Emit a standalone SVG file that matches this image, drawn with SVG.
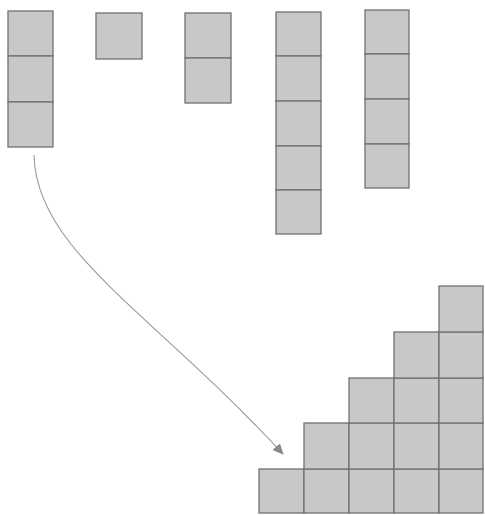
<svg xmlns="http://www.w3.org/2000/svg" width="485" height="515" viewBox="0 0 485 515">
<style>
.sq{fill:#c8c8c8;stroke:#707070;stroke-width:1.3}
.conn{fill:none;stroke:#9a9a9a;stroke-width:1.1}
</style>
<defs>
<marker id="ah" markerWidth="12" markerHeight="10" refX="10" refY="5" orient="auto" markerUnits="userSpaceOnUse">
<path d="M0,0 L11,5 L0,10 Z" fill="#8a8a8a"/>
</marker>
</defs>
<rect width="485" height="515" fill="#ffffff"/>
<g id="col1">
<rect class="sq" x="8" y="11" width="45" height="45"/>
<rect class="sq" x="8" y="56" width="45" height="46"/>
<rect class="sq" x="8" y="102" width="45" height="45"/>
</g>
<g id="col2">
<rect class="sq" x="96" y="13" width="46" height="46"/>
</g>
<g id="col3">
<rect class="sq" x="185" y="13" width="46" height="45"/>
<rect class="sq" x="185" y="58" width="46" height="45"/>
</g>
<g id="col4">
<rect class="sq" x="276" y="12" width="45" height="44"/>
<rect class="sq" x="276" y="56" width="45" height="45"/>
<rect class="sq" x="276" y="101" width="45" height="45"/>
<rect class="sq" x="276" y="146" width="45" height="44"/>
<rect class="sq" x="276" y="190" width="45" height="44"/>
</g>
<g id="col5">
<rect class="sq" x="365" y="10" width="44" height="44"/>
<rect class="sq" x="365" y="54" width="44" height="45"/>
<rect class="sq" x="365" y="99" width="44" height="45"/>
<rect class="sq" x="365" y="144" width="44" height="44"/>
</g>
<g id="staircase">
<rect class="sq" x="259" y="469" width="45" height="44"/>
<rect class="sq" x="304" y="469" width="45" height="44"/>
<rect class="sq" x="304" y="423" width="45" height="46"/>
<rect class="sq" x="349" y="469" width="45" height="44"/>
<rect class="sq" x="349" y="423" width="45" height="46"/>
<rect class="sq" x="349" y="378" width="45" height="45"/>
<rect class="sq" x="394" y="469" width="45" height="44"/>
<rect class="sq" x="394" y="423" width="45" height="46"/>
<rect class="sq" x="394" y="378" width="45" height="45"/>
<rect class="sq" x="394" y="332" width="45" height="46"/>
<rect class="sq" x="439" y="469" width="44" height="44"/>
<rect class="sq" x="439" y="423" width="44" height="46"/>
<rect class="sq" x="439" y="378" width="44" height="45"/>
<rect class="sq" x="439" y="332" width="44" height="46"/>
<rect class="sq" x="439" y="286" width="44" height="46"/>
</g>
<g id="connectors">
<path class="conn" d="M34,155 C36,250 150,310 283,454" marker-end="url(#ah)"/>
</g>
</svg>
